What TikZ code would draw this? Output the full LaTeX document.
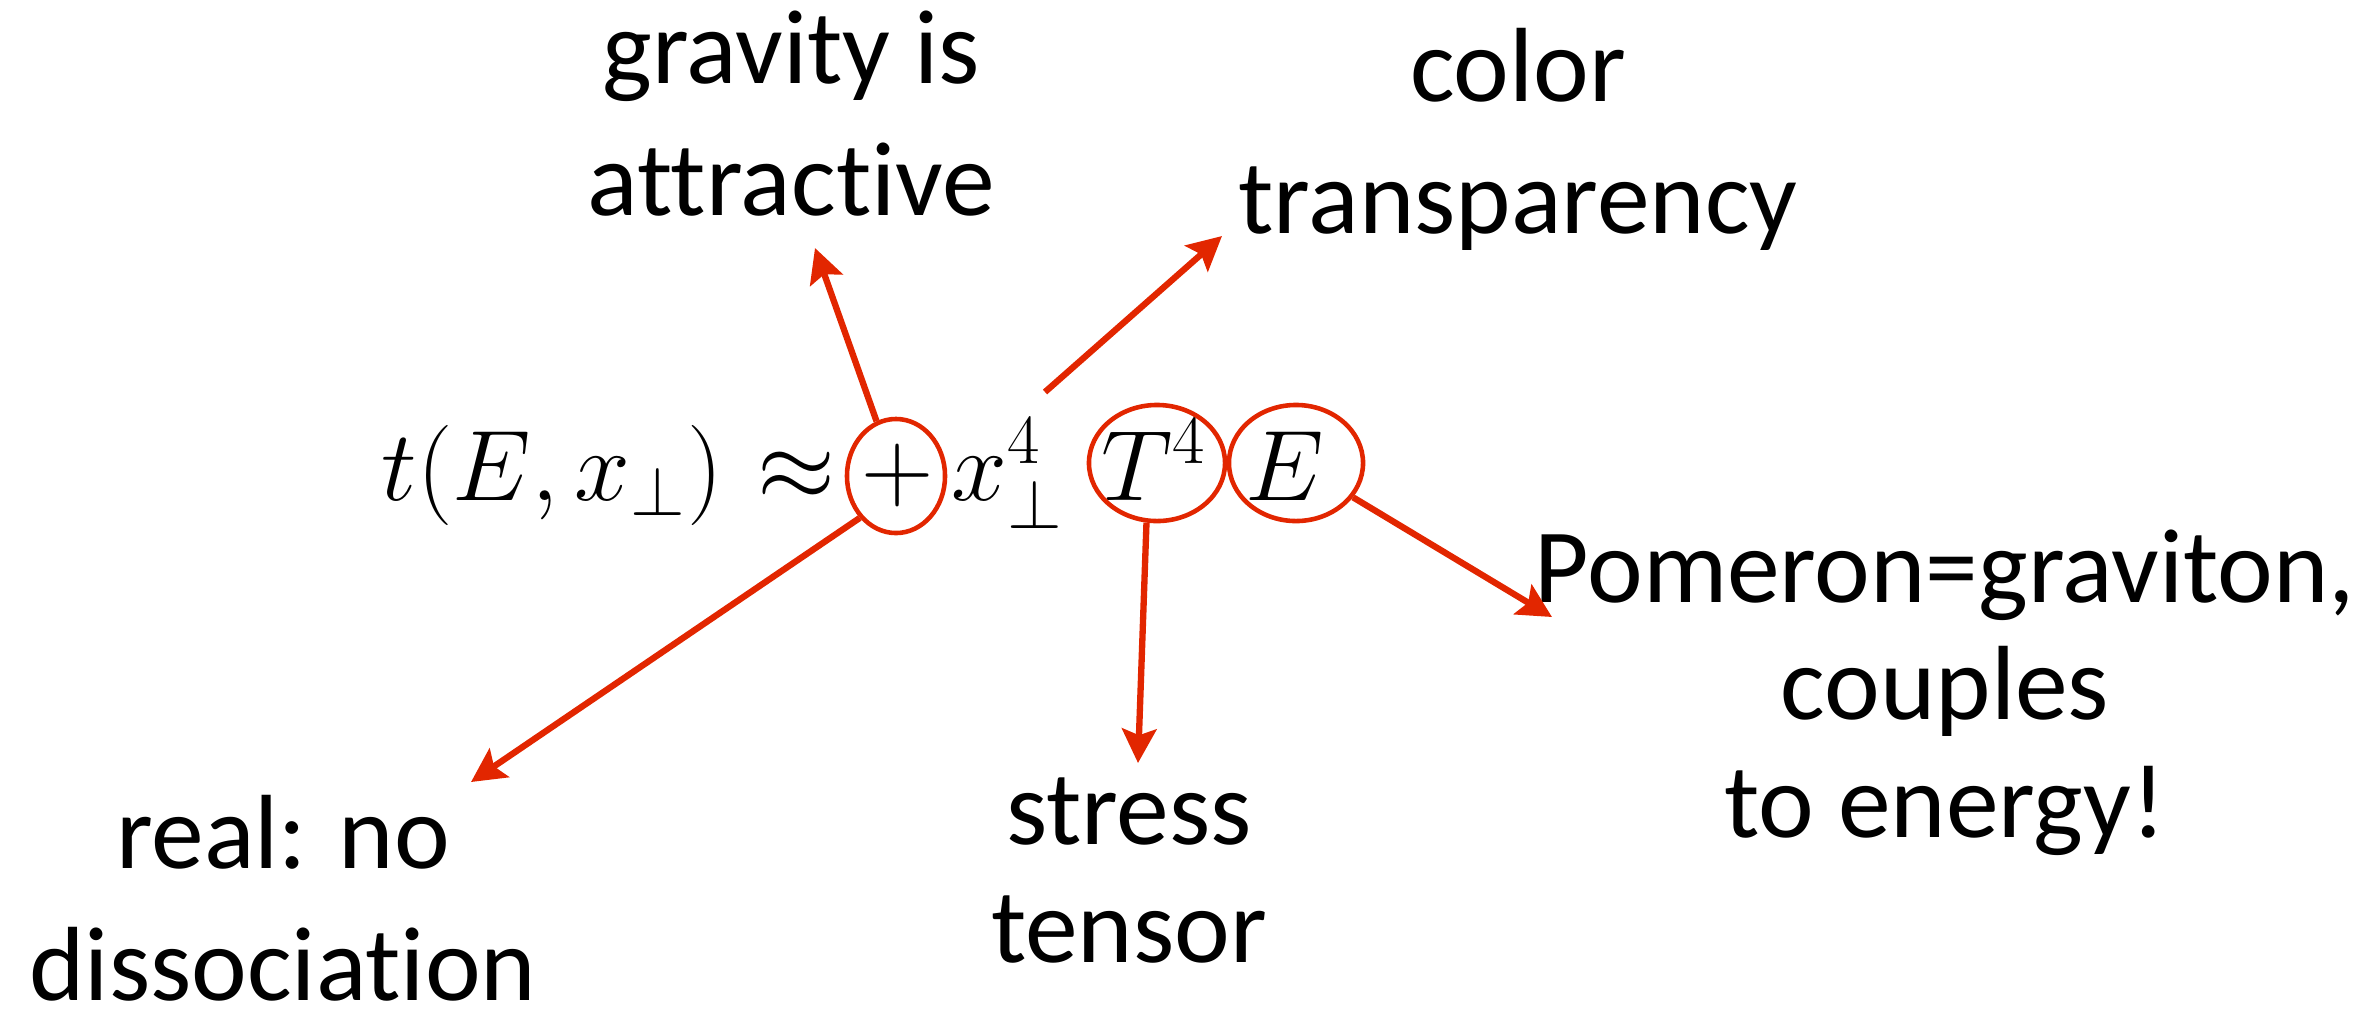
\RequirePackage{fix-cm}
\documentclass[tikz,border=0pt]{standalone}
\usepackage[no-math]{fontspec}
\usepackage{amsmath, amssymb}
\usepackage{tikz}
\usetikzlibrary{shapes.geometric,arrows.meta}
\newfontfamily\gillfont[Ligatures=NoCommon]{Carlito}
\definecolor{markred}{RGB}{226,38,0}
\tikzstyle{note} = [font=\gillfont\fontsize{30}{37.3}\selectfont, align=center, anchor=base, inner sep=0pt]
\tikzstyle{notetight} = [note, font=\gillfont\fontsize{30}{33.3}\selectfont]
\tikzstyle{formula} = [font=\fontsize{28.5}{34}\selectfont, anchor=base, inner sep=0pt]
\tikzstyle{ring} = [ellipse, draw=markred, line width=1.3pt, inner sep=0pt]
\tikzstyle{pointer} = [draw=markred, line width=1.8pt, -{Stealth[length=9.7pt, width=9.8pt, inset=1.8pt]}]

\begin{document}
\begin{tikzpicture}[x=0.01cm, y=-0.01cm]
      \useasboundingbox (0,0) rectangle (2366,1008);
      \node (lhs)[formula, anchor=base west] at (381,500) {$t(E,x_\perp)$};
      \node (approx)[formula] at (796,500) {$\approx$};
      \node (plus)[formula] at (898,500) {$+$};
      \node (xperp)[formula, anchor=base west] at (951,500) {$x_\perp^4$};
      \node (tfour)[formula] at (1154,500) {$T^4$};
      \node (energy)[formula] at (1285,500) {$E$};
      \node (plusring)[ring, minimum width=0.98cm, minimum height=1.14cm] at (896,476) {};
      \node (tring)[ring, minimum width=1.36cm, minimum height=1.16cm] at (1157,463) {};
      \node (ering)[ring, minimum width=1.34cm, minimum height=1.16cm] at (1296,463) {};
      \node (gravity)[note] at (791,215) {gravity is\\attractive};
      \node (color)[note] at (1518,233) {color\\transparency};
      \node (realno)[note] at (283,1000) {real: no\\dissociation};
      \node (stress)[notetight] at (1129,962) {stress\\tensor};
      \node (pomeron)[notetight] at (1945,837) {Pomeron=graviton,\\couples\\to energy!};
      \coordinate (xptop) at (1045,392);
      \coordinate (gravitytip) at (815,248);
      \coordinate (colortip) at (1222,236);
      \coordinate (realtip) at (471,782);
      \coordinate (tensortip) at (1138,763);
      \coordinate (pomtip) at (1552,617);
      \draw [pointer](plusring)--(gravitytip);
      \draw [pointer](xptop)--(colortip);
      \draw [pointer](plusring.south west)--(realtip);
      \draw [pointer](tring.-100)--(tensortip);
      \draw [pointer](ering)--(pomtip);
    \end{tikzpicture}
\end{document}
